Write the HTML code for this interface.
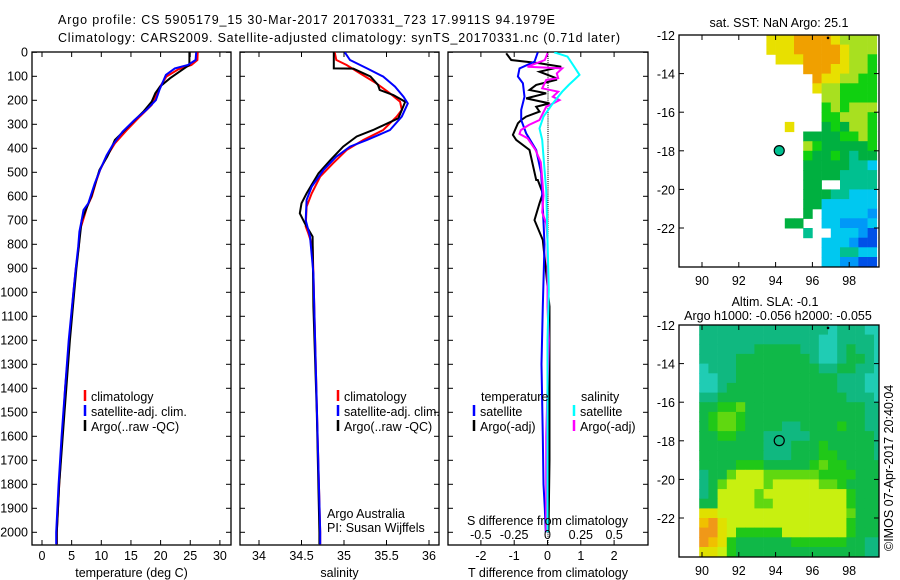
<!DOCTYPE html>
<html><head><meta charset="utf-8"><style>
body{margin:0;background:#fff}
svg{display:block;font-family:"Liberation Sans",sans-serif}
text{font-size:12.5px;fill:#000}
</style></head><body>
<svg id="s" width="900" height="580" viewBox="0 0 900 580">
<defs>
<clipPath id="c1"><rect x="32" y="52" width="199" height="493"/></clipPath>
<clipPath id="c2"><rect x="240" y="52" width="199" height="493"/></clipPath>
<clipPath id="c3"><rect x="448" y="52" width="200" height="493"/></clipPath>
<clipPath id="cm1"><rect x="679" y="35" width="200" height="232"/></clipPath>
<clipPath id="cm2"><rect x="679" y="325" width="200" height="232"/></clipPath>
</defs>
<text x="58" y="24" textLength="497">Argo profile: CS 5905179_15 30-Mar-2017 20170331_723 17.9911S 94.1979E</text>
<text x="58" y="42" textLength="562">Climatology: CARS2009. Satellite-adjusted climatology: synTS_20170331.nc (0.71d later)</text>
<g id="g"></g>
</svg>
<script>
// ---------- data ----------
const tClimD=[0,32,53,71,101,143,185,219,268,324,379,435,490,532,601,643,685,740,810,900,1000,1200,1400,1600,1800,2000,2050];
const tClimV=[26.25,26.2,25.2,23.0,21.0,19.9,19.1,18.5,16.5,14.3,12.3,10.9,9.8,9.2,8.4,7.6,7.1,6.4,6.2,5.7,5.3,4.6,3.9,3.4,2.9,2.5,2.5];
const tSatD=[0,32,53,67,94,157,199,240,282,331,387,429,490,546,629,657,699,747,810,900,1000,1200,1400,1600,1800,2000,2050];
const tSatV=[26.0,25.9,24.6,22.4,20.9,19.8,19.2,17.6,15.6,13.6,11.9,10.9,9.8,8.9,7.8,7.0,6.7,6.3,6.1,5.7,5.3,4.5,3.9,3.3,2.8,2.4,2.4];
const tArgD=[0,53,60,108,143,171,206,247,296,338,365,393,435,490,601,700,900,1200,1500,1800,2000,2050];
const tArgV=[24.85,24.85,24.4,21.6,19.9,19.1,18.5,17.1,15.1,13.4,12.3,11.8,11.0,9.7,8.3,6.7,5.8,4.7,3.8,2.9,2.5,2.5];
const sClimD=[0,32,53,88,129,171,206,240,268,324,365,407,463,518,588,643,726,754,810,921,1199,1600,2000,2050];
const sClimV=[34.89,34.91,35.03,35.19,35.38,35.54,35.66,35.68,35.62,35.46,35.23,35.03,34.87,34.72,34.62,34.56,34.55,34.58,34.63,34.64,34.66,34.69,34.72,34.72];
const sSatD=[0,32,67,101,143,185,213,268,324,365,393,435,490,560,615,699,768,921,1199,1600,2000,2050];
const sSatV=[35.01,35.07,35.27,35.46,35.60,35.70,35.75,35.68,35.54,35.27,35.07,34.91,34.76,34.62,34.56,34.55,34.60,34.64,34.66,34.69,34.72,34.72];
const sArgD=[0,67,68,101,136,157,178,206,275,324,351,393,449,504,588,629,671,713,768,1060,1500,2000,2050];
const sArgV=[34.88,34.88,35.11,35.31,35.40,35.42,35.58,35.72,35.64,35.34,35.15,34.99,34.84,34.70,34.56,34.50,34.48,34.54,34.63,34.64,34.68,34.71,34.71];
const dTSatD=[0,39,67,101,129,185,240,282,338,407,504,643,800,1060,1300,1600,1800,1900,2000];
const dTSatV=[-0.29,-0.39,-0.84,-0.89,-0.74,-0.69,-0.79,-0.79,-0.64,-0.34,-0.19,-0.14,-0.09,-0.14,-0.18,-0.14,-0.12,-0.08,-0.05];
const dTArgD=[4,32,46,60,81,108,115,136,157,171,192,213,227,247,268,282,296,344,365,407,532,532,588,629,699,782,921,1060,1400,1700,2000];
const dTArgV=[-1.24,-1.09,-0.24,0.41,-0.24,0.26,0.26,-0.34,-0.54,-0.04,-0.64,0.06,-0.34,-0.24,-0.64,-0.79,-0.89,-1.04,-0.94,-0.54,-0.34,-0.29,-0.14,-0.24,-0.39,-0.14,-0.04,0.06,0.06,0.06,0.03];
const dSArgD=[4,32,60,67,88,108,115,150,164,185,199,227,282,303,324,340,358,407,458,528,597,667,713,782,1060,1199,1600,2000];
const dSArgV=[0.0,-0.02,-0.15,0.11,0.07,0.08,-0.01,-0.04,0.08,0.04,0.09,-0.01,-0.06,-0.14,-0.2,-0.21,-0.15,-0.09,-0.05,-0.04,-0.03,-0.04,-0.01,0.0,0.0,0.01,-0.01,-0.01];
const dSSatD=[0,18,60,94,115,136,164,213,268,317,365,435,574,782,992,1199,1600,2000];
const dSSatV=[0.05,0.15,0.2,0.24,0.2,0.16,0.11,0.04,-0.03,-0.06,-0.04,-0.03,-0.01,0.0,0.01,0.0,0.0,0.0];
const depthTicks=[0,100,200,300,400,500,600,700,800,900,1000,1100,1200,1300,1400,1500,1600,1700,1800,1900,2000];
const tTicks=[0,5,10,15,20,25,30];
const sTicks=[34,34.5,35,35.5,36];
const sTickLabels=["34","34.5","35","35.5","36"];
const dTTicks=[-2,-1,0,1,2];
const dSTicks=[-0.5,-0.25,0,0.25,0.5];
const dSTickLabels=["-0.5","-0.25","0","0.25","0.5"];
const latTicks=[-12,-14,-16,-18,-20,-22];
const lonTicks=[90,92,94,96,98];
// SST grid: lon 93.5 + 0.5*col, lat -12 - 0.5*row ; '.' = no data; digit = colour class
const sstRows=[
"888999987777","888999998777",".88899998776","....99988776",
".....9887766",".....8776666","......776666","......676777",
"......667776","..8...565776","....55556676","....76555556",
"....65565455","....55555443","....55554444","....55..4444",
"....55544333","....55333333","....5.333332","..55..332223",
"....4..33321","......333211","......334433","......332211",
"...2..332100",".22.2.322100"];
// SLA grid: lon 89.85 + 0.5*col, lat -12 - 0.5*row
const slaRows=[
"11111111111111011100","11111111111110011110","11111122222110012110","11112222222210012210",
"01112222222221122110","00112222222222211100","00122222222222211100","11222222222222221110",
"22334222222222222211","23443222222222222211","23443222211222232211","22332221111122222221",
"22222221112223222221","22222221112223322221","22223332222234332222","12245554444443333222",
"12455554555554432222","12555545555555553222","22555544555555553222","66555555555555554222",
"78655555555555553222","88653333355555553222","87632222223333332211","66532222222222222211"];
const sstColors=["#0010a0","#0050e8","#0098f8","#00c8f0","#00c090","#00b040","#10d010","#a8e020","#e8e000","#f0a000"];
const slaColors=["#20ccb4","#10b880","#10b848","#20c818","#60d810","#c8f010","#e0e000","#f0c000","#f09818"];
const argoLon=94.1979, argoLat=-17.9911;

// ---------- helpers ----------
const NS="http://www.w3.org/2000/svg", G=document.getElementById('g');
function mk(tag,attrs,parent){const e=document.createElementNS(NS,tag);for(const k in attrs)e.setAttribute(k,attrs[k]);(parent||G).appendChild(e);return e;}
function txt(x,y,s,anchor,parent){const t=mk('text',{x:x,y:y,'text-anchor':anchor||'start'},parent);t.textContent=s;return t;}
const yD=d=>52.3+d*0.24;
const xT=v=>42+v*5.93, xS=v=>259+(v-34)*85, xDT=v=>547.5+v*33.3, xDS=v=>547.5+v*133.3;
const mx=lon=>679+(lon-88.75)*18.4, my=(lat,top)=>top+(-12-lat)*19.3;

function panel(x0,x1,name,clip,xticks,xf,labels,title){
  const g=mk('g',{});
  
  
  const r=mk('rect',{x:x0,y:52,width:x1-x0,height:493,fill:'none',stroke:'#000','stroke-width':1.3},g);
  
  
  xticks.forEach((v,i)=>{const x=xf(v);
    mk('line',{x1:x,x2:x,y1:52,y2:57,stroke:'#000'},g);
    mk('line',{x1:x,x2:x,y1:540,y2:545,stroke:'#000'},g);
    const t=txt(x,560,labels?labels[i]:String(v),'middle',g);
    
    });
  depthTicks.forEach(d=>{const y=yD(d);mk('line',{x1:x0,x2:x0+5,y1:y,y2:y,stroke:'#000'},g);mk('line',{x1:x1-5,x2:x1,y1:y,y2:y,stroke:'#000'},g);});
  const t=txt((x0+x1)/2,577,title,'middle',g);
  
  
  return g;
}
function line(D,V,xf,color,clip,name,w){
  const p=D.map((d,i)=>xf(V[i]).toFixed(1)+','+yD(d).toFixed(1)).join(' ');
  const e=mk('polyline',{points:p,fill:'none',stroke:color,'stroke-width':w||2,'clip-path':'url(#'+clip+')'});
  
  
}
function legend(x,y,color,label){
  const b=mk('line',{x1:x,x2:x,y1:y-11,y2:y,stroke:color,'stroke-width':2.5});
  
  
  const t=txt(x+6,y,label);
  
  
}

// depth labels
depthTicks.forEach(d=>{const t=txt(28,yD(d)+4,String(d),'end');
  
  });

// panel 1 temperature
panel(32,231,'temperature-panel','c1',tTicks,xT,null,'temperature (deg C)');
line(tClimD,tClimV,xT,'#f00','c1','temp-climatology-line');
line(tArgD,tArgV,xT,'#000','c1','temp-argo-line');
line(tSatD,tSatV,xT,'#00f','c1','temp-satellite-line');
legend(85,401,'#f00','climatology');legend(85,416,'#00f','satellite-adj. clim.');legend(85,431,'#000','Argo(..raw -QC)');

// panel 2 salinity
panel(240,439,'salinity-panel','c2',sTicks,xS,sTickLabels,'salinity');
line(sClimD,sClimV,xS,'#f00','c2','sal-climatology-line');
line(sArgD,sArgV,xS,'#000','c2','sal-argo-line');
line(sSatD,sSatV,xS,'#00f','c2','sal-satellite-line');
legend(338,401,'#f00','climatology');legend(338,416,'#00f','satellite-adj. clim.');legend(338,431,'#000','Argo(..raw -QC)');
let t=txt(327,518,'Argo Australia');
t=txt(327,532,'PI: Susan Wijffels');

// panel 3 differences
panel(448,648,'difference-panel','c3',dTTicks,xDT,null,'T difference from climatology');
for(let d=0;d<2050;d+=8){mk('line',{x1:548,x2:548,y1:yD(d),y2:yD(d)+1,stroke:'#000'});}
line(dTArgD,dTArgV,xDT,'#000','c3','dT-argo-line');
line(dTSatD,dTSatV,xDT,'#00f','c3','dT-satellite-line');
line(dSArgD,dSArgV,xDS,'#f0f','c3','dS-argo-line');
line(dSSatD,dSSatV,xDS,'#0ff','c3','dS-satellite-line');
t=txt(481,401,'temperature');
t=txt(581,401,'salinity');
legend(474,416,'#00f','satellite');legend(474,431,'#000','Argo(-adj)');
legend(574,416,'#0ff','satellite');legend(574,431,'#f0f','Argo(-adj)');
t=txt(467,525,'S difference from climatology');
dSTicks.forEach((v,i)=>{const tt=txt(xDS(v),539,dSTickLabels[i],'middle');
  
  });

// maps
function map(top,name,rows,colors,lon0,clip){
  const g=mk('g',{});
  
  
  const cg=mk('g',{'clip-path':'url(#'+clip+')'},g);
  rows.forEach((row,j)=>{for(let i=0;i<row.length;i++){const c=row[i];if(c==='.')continue;
    const x=mx(lon0+0.5*i), y=my(-12-0.5*j,top);
    const r=mk('rect',{x:x.toFixed(1),y:y.toFixed(1),width:9.5,height:10.2,fill:colors[+c]},cg);
    
    }});
  const f=mk('rect',{x:679,y:top,width:200,height:232,fill:'none',stroke:'#000','stroke-width':1.3},g);
  
  
  latTicks.forEach(l=>{const y=my(l,top);mk('line',{x1:679,x2:684,y1:y,y2:y,stroke:'#000'},g);mk('line',{x1:874,x2:879,y1:y,y2:y,stroke:'#000'},g);
    const tt=txt(675,y+5,String(l),'end',g);});
  lonTicks.forEach(l=>{const x=mx(l);mk('line',{x1:x,x2:x,y1:top,y2:top+5,stroke:'#000'},g);mk('line',{x1:x,x2:x,y1:top+227,y2:top+232,stroke:'#000'},g);
    const tt=txt(x,top+250,String(l),'middle',g);});
  const m=mk('circle',{cx:mx(argoLon),cy:my(argoLat,top),r:5,fill:name==='sst-map'?colors[4]:'none',stroke:'#000','stroke-width':1.2},g);
  
  
  mk('circle',{cx:mx(96.85),cy:my(-12.15,top),r:1.3,fill:'#000'},g);
}
map(35,'sst-map',sstRows,sstColors,93.5,'cm1');
map(325,'sla-map',slaRows,slaColors,89.85,'cm2');
t=txt(779,27,'sat. SST: NaN Argo: 25.1','middle');
t=txt(775,306,'Altim. SLA: -0.1','middle');
t=txt(778,320,'Argo h1000: -0.056 h2000: -0.055','middle');
t=mk('text',{x:0,y:0,transform:'translate(893,551) rotate(-90)'});t.textContent='©IMOS 07-Apr-2017 20:40:04';

</script>
</body></html>
